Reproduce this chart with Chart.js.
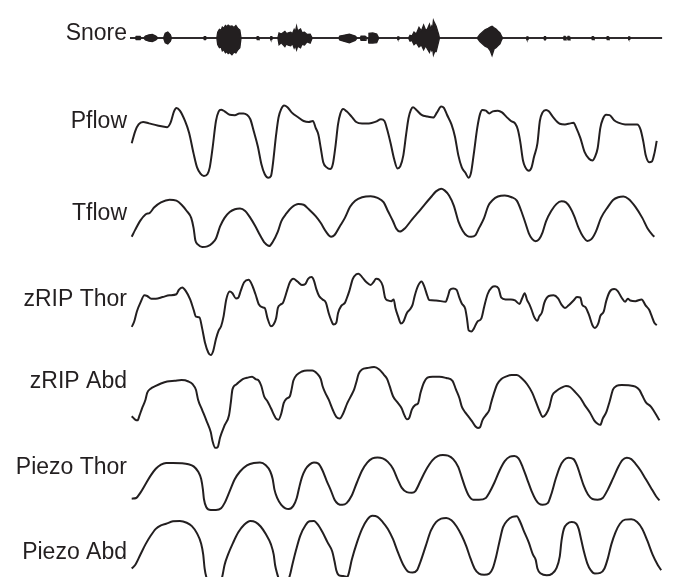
<!DOCTYPE html>
<html>
<head>
<meta charset="utf-8">
<script src="https://cdn.jsdelivr.net/npm/chart.js@4.4.1/dist/chart.umd.min.js"></script>
<style>
  html, body { margin: 0; padding: 0; background: #fff; }
  #wrap { width: 689px; height: 577px; }
</style>
</head>
<body>
<div id="wrap"><canvas id="traces" width="689" height="577"></canvas></div>
<script>
// channel names, top to bottom
const channels = ['Snore', 'Pflow', 'Tflow', 'zRIP Thor', 'zRIP Abd', 'Piezo Thor', 'Piezo Abd'];

// snore envelope: time (s), upper and lower excursion
const snoreTimes = [0, 0.3, 0.36, 0.59, 0.65, 0.8, 0.9, 1.1, 1.3, 1.5, 1.62, 1.95, 2.05, 2.2, 2.35, 2.41,
  4.28, 4.32, 4.4, 4.44,
  5.05, 5.1, 5.2, 5.3, 5.37, 5.45, 5.55, 5.63, 5.71, 5.8, 5.93, 6.05, 6.16, 6.28, 6.39, 6.46,
  7.36, 7.4, 7.46, 7.5, 8.15, 8.19, 8.25, 8.29,
  8.6, 8.67, 8.8, 9.01, 9.1, 9.2, 9.35, 9.45, 9.55, 9.62, 9.69, 9.75, 9.8, 9.92, 10.0, 10.15, 10.3, 10.48, 10.6,
  12.15, 12.2, 12.42, 12.76, 13.1, 13.21,
  13.4, 13.44, 13.67, 13.72, 13.85, 13.9, 14.12, 14.35, 14.47,
  15.54, 15.58, 15.64, 15.68,
  16.2, 16.29, 16.4, 16.52, 16.65, 16.81, 16.95, 17.08, 17.2, 17.3, 17.42, 17.5, 17.55, 17.6, 17.65, 17.72, 17.81, 17.95, 18.0,
  20.2, 20.35, 20.49, 20.65, 20.83, 20.95, 21.06, 21.18, 21.29, 21.4, 21.52, 21.63, 21.7,
  23.05, 23.09, 23.15, 23.19, 24.07, 24.11, 24.17, 24.21, 25.21, 25.25, 25.31, 25.35, 25.44, 25.48, 25.54, 25.58,
  26.85, 26.89, 26.95, 26.99, 27.72, 27.76, 27.82, 27.86, 28.97, 29.01, 29.07, 29.11, 30.95];
const snoreUpper = [0, 0, 0.4, 0.4, 0, 0, 0.5, 0.8, 0.9, 0.5, 0, 0, 1.2, 1.5, 0.8, 0,
  0, 0.35, 0.35, 0,
  0, 1.5, 2.2, 2.0, 2.8, 2.5, 3.2, 2.9, 3.3, 3.0, 3.1, 2.7, 3.2, 2.4, 2.0, 0,
  0, 0.35, 0.35, 0, 0, 0.35, 0.35, 0,
  0, 1.3, 1.0, 1.7, 1.2, 1.3, 1.5, 1.1, 2.2, 1.6, 3.0, 1.8, 2.0, 2.3, 1.4, 1.5, 0.9, 1.0, 0,
  0, 0.5, 0.7, 1.0, 0.5, 0,
  0, 0.5, 0.5, 0, 0, 1.2, 1.3, 1.0, 0,
  0, 0.3, 0.3, 0,
  0, 0.7, 0.5, 1.5, 1.0, 2.7, 1.8, 3.3, 2.0, 2.3, 3.5, 2.2, 3.0, 2.5, 4.5, 3.8, 3.0, 1.0, 0,
  0, 0.9, 1.5, 2.1, 2.5, 2.8, 3.0, 2.6, 2.3, 1.8, 1.3, 0.3, 0,
  0, 0.3, 0.3, 0, 0, 0.35, 0.35, 0, 0, 0.4, 0.4, 0, 0, 0.4, 0.4, 0,
  0, 0.35, 0.35, 0, 0, 0.35, 0.35, 0, 0, 0.3, 0.3, 0, 0];
const snoreLower = [0, 0, -0.4, -0.4, 0, 0, -0.5, -0.8, -0.9, -0.5, 0, 0, -1.2, -1.5, -0.8, 0,
  0, -0.4, -0.4, 0,
  0, -1.7, -2.5, -2.3, -3.3, -3.0, -3.8, -3.5, -4.0, -3.7, -4.3, -3.6, -3.8, -3.0, -2.5, 0,
  0, -0.4, -0.4, 0, 0, -0.4, -0.4, 0,
  0, -1.7, -1.2, -2.2, -1.5, -1.8, -2.0, -1.4, -2.6, -2.0, -3.0, -2.1, -2.2, -2.5, -1.6, -1.8, -1.0, -1.3, 0,
  0, -0.5, -0.8, -1.2, -0.6, 0,
  0, -0.6, -0.6, 0, 0, -1.3, -1.3, -1.2, 0,
  0, -0.35, -0.35, 0,
  0, -0.8, -0.6, -1.7, -1.2, -2.3, -1.8, -3.0, -2.0, -2.8, -3.7, -2.5, -3.2, -2.6, -4.3, -3.5, -3.5, -1.0, 0,
  0, -0.9, -1.5, -2.1, -2.5, -3.2, -4.5, -2.8, -2.5, -2.0, -1.5, -0.3, 0,
  0, -0.4, -0.4, 0, 0, -0.45, -0.45, 0, 0, -0.45, -0.45, 0, 0, -0.45, -0.45, 0,
  0, -0.4, -0.4, 0, 0, -0.4, -0.4, 0, 0, -0.35, -0.35, 0, 0];

// respiratory channels: [time (s), amplitude]
const pflow = [[0.1,-0.05],[0.3,0.3],[0.5,0.5],[0.76,0.57],[1.1,0.53],[1.6,0.47],[2.16,0.42],[2.36,0.55],[2.56,0.88],[2.7,0.98],
  [2.9,0.9],[3.2,0.6],[3.44,0.25],[3.7,-0.35],[3.9,-0.75],[4.1,-0.93],[4.3,-1.0],[4.5,-0.95],[4.64,-0.75],[4.8,-0.2],
  [5.0,0.6],[5.16,0.88],[5.3,0.93],[5.5,0.88],[5.8,0.78],[6.1,0.77],[6.36,0.82],[6.6,0.82],[6.8,0.78],[7.0,0.65],
  [7.2,0.3],[7.44,-0.15],[7.64,-0.65],[7.84,-0.95],[8.04,-1.05],[8.2,-1.0],[8.3,-0.7],[8.5,0.2],[8.64,0.7],[8.8,0.95],
  [8.96,1.05],[9.16,1.0],[9.4,0.85],[9.8,0.7],[10.1,0.6],[10.4,0.57],[10.64,0.6],[10.8,0.4],[10.96,0.2],[11.1,-0.2],
  [11.24,-0.6],[11.44,-0.75],[11.64,-0.8],[11.8,-0.65],[11.96,-0.1],[12.1,0.5],[12.24,0.82],[12.4,0.95],[12.6,0.88],[12.9,0.72],
  [13.16,0.57],[13.5,0.53],[13.9,0.53],[14.3,0.58],[14.6,0.65],[14.8,0.6],[14.96,0.35],[15.16,-0.05],[15.36,-0.5],[15.56,-0.78],
  [15.72,-0.72],[15.9,-0.4],[16.06,0.2],[16.2,0.68],[16.34,0.92],[16.46,1.0],[16.66,0.92],[16.96,0.78],[17.3,0.73],[17.64,0.7],
  [17.86,0.85],[18.1,1.02],[18.26,0.98],[18.44,0.78],[18.7,0.5],[18.9,0.15],[19.1,-0.4],[19.3,-0.75],[19.5,-0.9],[19.7,-1.05],
  [19.84,-0.9],[20.0,-0.35],[20.2,0.4],[20.36,0.8],[20.5,0.92],[20.7,0.9],[20.9,0.82],[21.1,0.88],[21.4,0.9],[21.64,0.85],
  [21.9,0.72],[22.16,0.6],[22.4,0.53],[22.56,0.35],[22.7,0.0],[22.86,-0.55],[23.0,-0.75],[23.2,-0.85],[23.36,-0.75],[23.5,-0.45],
  [23.7,-0.05],[23.84,0.6],[24.0,0.85],[24.2,0.92],[24.36,0.88],[24.6,0.72],[25.0,0.52],[25.3,0.5],[25.6,0.53],[25.8,0.55],
  [25.96,0.4],[26.2,0.1],[26.44,-0.3],[26.7,-0.5],[26.9,-0.55],[27.04,-0.45],[27.2,-0.2],[27.36,0.4],[27.5,0.65],[27.7,0.78],
  [27.9,0.77],[28.16,0.62],[28.4,0.55],[28.8,0.5],[29.2,0.5],[29.5,0.5],[29.7,0.35],[29.86,0.0],[30.0,-0.4],[30.2,-0.6],
  [30.36,-0.58],[30.5,-0.35],[30.64,0.02]];

const tflow = [[0.1,-0.45],[0.3,-0.25],[0.6,0.02],[0.9,0.2],[1.16,0.25],[1.4,0.4],[1.8,0.55],[2.3,0.63],[2.7,0.6],[3.0,0.48],
  [3.3,0.3],[3.56,0.1],[3.7,-0.2],[3.8,-0.55],[3.96,-0.68],[4.2,-0.75],[4.5,-0.73],[4.8,-0.63],[5.0,-0.5],[5.24,-0.15],
  [5.5,0.1],[5.8,0.27],[6.1,0.35],[6.4,0.37],[6.7,0.3],[7.0,0.1],[7.3,-0.15],[7.56,-0.4],[7.84,-0.63],[8.1,-0.72],
  [8.3,-0.6],[8.6,-0.3],[8.8,0.0],[9.1,0.23],[9.4,0.4],[9.8,0.5],[10.1,0.48],[10.4,0.35],[10.8,0.15],[11.1,-0.05],
  [11.4,-0.3],[11.7,-0.45],[11.9,-0.4],[12.2,-0.15],[12.5,0.1],[12.8,0.42],[13.1,0.6],[13.5,0.7],[14.0,0.73],[14.4,0.68],
  [14.76,0.55],[15.0,0.3],[15.3,0.0],[15.5,-0.22],[15.7,-0.3],[16.0,-0.2],[16.4,0.05],[16.8,0.28],[17.16,0.5],[17.5,0.7],
  [17.8,0.87],[18.1,0.95],[18.3,0.9],[18.56,0.75],[18.84,0.45],[19.1,0.0],[19.36,-0.28],[19.6,-0.42],[19.84,-0.45],[20.1,-0.4],
  [20.3,-0.2],[20.6,0.1],[20.84,0.45],[21.1,0.62],[21.4,0.72],[21.8,0.75],[22.2,0.7],[22.5,0.6],[22.76,0.3],[23.0,-0.05],
  [23.2,-0.35],[23.4,-0.52],[23.6,-0.58],[23.8,-0.52],[24.0,-0.32],[24.2,0.0],[24.5,0.3],[24.8,0.5],[25.1,0.58],[25.36,0.55],
  [25.6,0.4],[25.84,0.15],[26.1,-0.2],[26.36,-0.45],[26.6,-0.57],[26.84,-0.52],[27.1,-0.3],[27.4,0.1],[27.8,0.42],[28.1,0.62],
  [28.4,0.7],[28.7,0.72],[29.0,0.65],[29.4,0.42],[29.8,0.1],[30.1,-0.2],[30.4,-0.4],[30.5,-0.45]];

const zripThor = [[0.1,-0.6],[0.24,-0.45],[0.4,-0.15],[0.6,0.1],[0.84,0.32],[1.0,0.3],[1.24,0.22],[1.5,0.22],[1.9,0.27],[2.3,0.32],
  [2.7,0.35],[2.84,0.48],[3.04,0.55],[3.24,0.45],[3.5,0.2],[3.7,-0.1],[3.84,-0.3],[4.04,-0.32],[4.2,-0.65],[4.36,-1.05],
  [4.56,-1.35],[4.7,-1.42],[4.84,-1.3],[5.0,-0.95],[5.16,-0.7],[5.3,-0.58],[5.44,-0.3],[5.6,0.2],[5.8,0.43],[5.96,0.38],
  [6.16,0.23],[6.3,0.25],[6.44,0.45],[6.64,0.7],[6.9,0.77],[7.1,0.62],[7.3,0.35],[7.5,0.05],[7.7,-0.03],[7.84,-0.05],
  [8.0,-0.35],[8.2,-0.58],[8.36,-0.52],[8.5,-0.35],[8.6,-0.05],[8.76,0.05],[8.9,0.1],[9.04,0.3],[9.16,0.5],[9.3,0.7],
  [9.5,0.8],[9.74,0.72],[10.0,0.62],[10.2,0.65],[10.36,0.8],[10.56,0.85],[10.7,0.75],[10.84,0.5],[11.0,0.3],[11.2,0.2],
  [11.4,0.1],[11.56,-0.2],[11.7,-0.4],[11.84,-0.53],[12.0,-0.48],[12.1,-0.2],[12.3,0.02],[12.5,0.1],[12.6,0.22],[12.76,0.45],
  [12.96,0.8],[13.16,0.93],[13.3,0.95],[13.5,0.85],[13.76,0.7],[14.0,0.62],[14.16,0.7],[14.32,0.8],[14.5,0.77],[14.7,0.6],
  [14.84,0.25],[15.0,0.17],[15.2,0.15],[15.34,0.2],[15.44,-0.05],[15.6,-0.3],[15.76,-0.5],[15.9,-0.45],[16.1,-0.2],[16.3,-0.08],
  [16.44,0.05],[16.56,0.3],[16.76,0.6],[16.96,0.72],[17.1,0.6],[17.3,0.3],[17.4,0.18],[17.8,0.17],[18.36,0.13],[18.5,0.3],
  [18.6,0.47],[18.8,0.52],[19.0,0.48],[19.16,0.25],[19.3,0.08],[19.5,-0.07],[19.6,-0.35],[19.7,-0.7],[19.86,-0.73],[20.0,-0.65],
  [20.2,-0.45],[20.44,-0.35],[20.6,-0.02],[20.8,0.35],[21.04,0.55],[21.24,0.58],[21.44,0.52],[21.6,0.25],[21.84,0.2],[22.16,0.2],
  [22.4,0.17],[22.66,0.07],[22.8,0.22],[22.96,0.38],[23.1,0.18],[23.24,0.05],[23.36,-0.1],[23.5,-0.3],[23.7,-0.42],[23.8,-0.3],
  [23.96,-0.18],[24.1,0.1],[24.36,0.3],[24.64,0.32],[24.9,0.23],[25.1,0.05],[25.3,-0.05],[25.5,0.02],[25.8,0.17],[26.0,0.27],
  [26.2,0.25],[26.3,0.05],[26.5,-0.03],[26.7,-0.25],[26.9,-0.55],[27.04,-0.63],[27.24,-0.5],[27.36,-0.28],[27.56,-0.15],[27.7,0.15],
  [27.9,0.42],[28.16,0.5],[28.36,0.45],[28.6,0.25],[28.8,0.13],[28.96,0.22],[29.1,0.17],[29.4,0.15],[29.76,0.2],[30.0,0.02],
  [30.2,-0.1],[30.36,-0.3],[30.5,-0.48],[30.64,-0.55]];

const zripAbd = [[0.1,-0.48],[0.3,-0.58],[0.44,-0.6],[0.56,-0.45],[0.7,-0.25],[0.9,0.0],[1.0,0.2],[1.2,0.32],[1.5,0.4],[1.8,0.47],
  [2.16,0.53],[2.6,0.55],[3.0,0.57],[3.4,0.53],[3.64,0.45],[3.84,0.28],[3.96,0.0],[4.2,-0.3],[4.44,-0.6],[4.7,-0.95],
  [4.8,-1.2],[4.96,-1.4],[5.1,-1.38],[5.24,-1.1],[5.5,-0.75],[5.76,-0.45],[5.86,-0.1],[5.96,0.3],[6.2,0.45],[6.56,0.6],
  [6.9,0.65],[7.1,0.67],[7.3,0.6],[7.5,0.55],[7.64,0.4],[7.8,0.1],[8.0,-0.05],[8.2,-0.25],[8.5,-0.55],[8.64,-0.58],
  [8.8,-0.4],[8.94,-0.1],[9.1,0.03],[9.3,0.1],[9.4,0.3],[9.5,0.55],[9.7,0.72],[10.0,0.82],[10.3,0.85],[10.6,0.85],
  [10.9,0.75],[11.1,0.6],[11.2,0.4],[11.36,0.2],[11.56,0.0],[11.8,-0.3],[12.0,-0.5],[12.2,-0.55],[12.4,-0.4],[12.64,-0.1],
  [12.9,0.15],[13.04,0.3],[13.16,0.5],[13.3,0.75],[13.5,0.88],[13.8,0.92],[14.2,0.95],[14.5,0.88],[14.76,0.73],[14.96,0.6],
  [15.1,0.4],[15.3,0.1],[15.56,-0.08],[15.8,-0.25],[15.96,-0.45],[16.1,-0.57],[16.24,-0.53],[16.4,-0.28],[16.6,-0.15],[16.76,-0.1],
  [16.9,0.2],[17.1,0.5],[17.3,0.64],[17.6,0.67],[18.0,0.67],[18.4,0.63],[18.76,0.55],[18.96,0.3],[19.16,0.05],[19.3,-0.2],
  [19.5,-0.37],[19.7,-0.5],[19.9,-0.63],[20.1,-0.78],[20.24,-0.82],[20.36,-0.8],[20.5,-0.6],[20.7,-0.45],[20.9,-0.3],[21.0,-0.1],
  [21.16,0.17],[21.36,0.45],[21.6,0.6],[21.9,0.68],[22.2,0.72],[22.5,0.72],[22.8,0.62],[23.1,0.45],[23.4,0.2],[23.64,-0.1],
  [23.84,-0.35],[24.0,-0.5],[24.2,-0.42],[24.4,-0.2],[24.56,0.12],[24.8,0.25],[25.1,0.35],[25.36,0.4],[25.6,0.37],[25.9,0.22],
  [26.2,0.05],[26.44,-0.15],[26.76,-0.38],[27.0,-0.6],[27.2,-0.7],[27.36,-0.73],[27.5,-0.55],[27.7,-0.37],[27.9,-0.05],[28.1,0.3],
  [28.3,0.4],[28.6,0.43],[29.0,0.42],[29.4,0.38],[29.64,0.28],[29.8,0.12],[30.0,-0.07],[30.3,-0.2],[30.5,-0.35],[30.8,-0.6]];

const piezoThor = [[0.1,-0.47],[0.36,-0.45],[0.6,-0.3],[0.9,-0.05],[1.2,0.2],[1.5,0.4],[1.8,0.52],[2.1,0.57],[2.5,0.57],[3.0,0.56],
  [3.4,0.53],[3.7,0.47],[3.96,0.32],[4.14,0.1],[4.24,-0.2],[4.3,-0.48],[4.44,-0.72],[4.7,-0.8],[5.0,-0.8],[5.3,-0.75],
  [5.5,-0.6],[5.8,-0.25],[6.1,0.1],[6.4,0.32],[6.8,0.5],[7.2,0.57],[7.56,0.58],[7.9,0.5],[8.16,0.32],[8.3,0.1],
  [8.4,-0.2],[8.56,-0.45],[8.8,-0.65],[9.04,-0.75],[9.24,-0.77],[9.5,-0.68],[9.7,-0.45],[9.84,-0.15],[10.0,0.15],[10.2,0.38],
  [10.44,0.52],[10.7,0.58],[10.96,0.55],[11.2,0.35],[11.44,0.05],[11.7,-0.25],[11.9,-0.5],[12.1,-0.62],[12.36,-0.65],[12.6,-0.6],
  [12.9,-0.38],[13.2,0.0],[13.5,0.35],[13.8,0.58],[14.1,0.7],[14.4,0.73],[14.7,0.7],[15.0,0.6],[15.3,0.4],[15.56,0.1],
  [15.8,-0.15],[16.1,-0.28],[16.4,-0.3],[16.6,-0.25],[16.9,0.05],[17.2,0.35],[17.6,0.65],[17.9,0.77],[18.2,0.8],[18.5,0.78],
  [18.8,0.68],[19.1,0.45],[19.3,0.15],[19.5,-0.15],[19.7,-0.38],[19.96,-0.5],[20.3,-0.5],[20.7,-0.45],[20.9,-0.3],[21.2,0.0],
  [21.5,0.35],[21.8,0.62],[22.1,0.75],[22.36,0.77],[22.6,0.7],[22.84,0.45],[23.1,0.1],[23.36,-0.25],[23.6,-0.5],[23.8,-0.62],
  [24.0,-0.65],[24.3,-0.6],[24.5,-0.35],[24.76,0.1],[25.0,0.45],[25.24,0.65],[25.5,0.72],[25.8,0.68],[26.0,0.5],[26.2,0.2],
  [26.4,-0.1],[26.64,-0.35],[26.9,-0.48],[27.2,-0.5],[27.5,-0.45],[27.8,-0.2],[28.1,0.12],[28.4,0.45],[28.64,0.65],[28.9,0.72],
  [29.16,0.68],[29.4,0.55],[29.7,0.35],[30.0,0.1],[30.3,-0.15],[30.6,-0.4],[30.8,-0.52]];

const piezoAbd = [[0.1,-0.65],[0.3,-0.55],[0.6,-0.25],[0.9,0.05],[1.2,0.3],[1.5,0.5],[1.8,0.6],[2.1,0.65],[2.5,0.72],[2.9,0.73],
  [3.3,0.68],[3.6,0.58],[3.9,0.37],[4.14,0.07],[4.26,-0.25],[4.34,-0.65],[4.44,-0.9],[4.64,-1.1],[4.96,-1.15],[5.24,-1.05],
  [5.36,-0.9],[5.5,-0.55],[5.7,-0.25],[6.0,0.1],[6.3,0.4],[6.64,0.62],[7.0,0.73],[7.3,0.7],[7.6,0.57],[7.9,0.35],
  [8.2,0.05],[8.36,-0.25],[8.44,-0.55],[8.56,-0.8],[8.7,-1.0],[8.96,-1.1],[9.2,-1.0],[9.3,-0.85],[9.44,-0.55],[9.64,-0.15],
  [9.9,0.3],[10.2,0.6],[10.44,0.72],[10.7,0.73],[10.96,0.6],[11.2,0.4],[11.5,0.1],[11.76,-0.15],[11.9,-0.45],[12.0,-0.7],
  [12.16,-0.85],[12.4,-0.87],[12.64,-0.9],[12.72,-0.8],[12.9,-0.4],[13.2,0.1],[13.5,0.5],[13.8,0.77],[14.1,0.88],[14.4,0.85],
  [14.7,0.7],[15.0,0.5],[15.3,0.2],[15.6,-0.2],[15.9,-0.55],[16.2,-0.75],[16.44,-0.77],[16.7,-0.7],[16.9,-0.45],[17.2,0.0],
  [17.5,0.45],[17.8,0.7],[18.1,0.8],[18.4,0.82],[18.7,0.75],[19.0,0.57],[19.3,0.3],[19.56,0.0],[19.8,-0.35],[20.04,-0.65],
  [20.3,-0.8],[20.6,-0.83],[20.9,-0.8],[21.1,-0.65],[21.3,-0.3],[21.5,0.15],[21.7,0.55],[21.96,0.75],[22.24,0.85],[22.5,0.87],
  [22.7,0.7],[22.9,0.45],[23.2,0.1],[23.44,-0.25],[23.6,-0.4],[23.7,-0.65],[23.9,-0.8],[24.24,-0.85],[24.56,-0.8],[24.8,-0.65],
  [25.0,-0.3],[25.1,0.15],[25.24,0.5],[25.44,0.65],[25.7,0.7],[25.96,0.65],[26.1,0.5],[26.24,0.2],[26.4,-0.15],[26.6,-0.5],
  [26.8,-0.7],[27.04,-0.8],[27.36,-0.78],[27.6,-0.65],[27.8,-0.35],[28.0,0.05],[28.24,0.4],[28.5,0.65],[28.8,0.77],[29.16,0.78],
  [29.5,0.7],[29.8,0.5],[30.1,0.15],[30.4,-0.25],[30.7,-0.55],[30.9,-0.7]];

// page layout (pixels): trace centre line, pixels per unit, label centre
const rowCenter = [38, 141.6, 221.3, 306.3, 399.7, 482.5, 546.1];
const rowGain = [3.91, 34.38, 34.38, 34.38, 34.38, 34.38, 34.38];
const labelY = [33.3, 121.7, 214, 300, 382, 468, 553];

const ink = '#231f20';
const pageH = 577;
const bandH = pageH / channels.length;
const labelColW = 114;

Chart.defaults.font.family = "'Liberation Sans', Arial, Helvetica, sans-serif";
Chart.defaults.color = ink;

const scales = {
  x: { type: 'linear', min: 0, max: 30.83, display: false }
};

channels.forEach((name, i) => {
  const top = i * bandH;
  const max = (rowCenter[i] - top) / rowGain[i];
  const min = max - bandH / rowGain[i];
  const tickVal = (rowCenter[i] - labelY[i]) / rowGain[i];
  scales['y' + i] = {
    type: 'linear',
    position: 'left',
    stack: 'rows',
    stackWeight: 1,
    weight: channels.length - i,
    bounds: 'data',
    min: min,
    max: max,
    grid: { display: false, drawTicks: false },
    border: { display: false },
    ticks: { padding: 3, color: ink, font: { size: 23 }, callback: () => name },
    afterBuildTicks: s => { s.ticks = [{ value: tickVal }]; },
    afterFit: s => { s.width = labelColW; s.paddingTop = 0; s.paddingBottom = 0; }
  };
});

const toPts = arr => arr.map(p => ({ x: p[0], y: p[1] }));
const waves = [pflow, tflow, zripThor, zripAbd, piezoThor, piezoAbd];

const datasets = [
  {
    data: snoreTimes.map((t, k) => ({ x: t, y: snoreUpper[k] })),
    yAxisID: 'y0', fill: '+1', backgroundColor: ink, borderColor: ink, borderWidth: 1.3, tension: 0, clip: false
  },
  {
    data: snoreTimes.map((t, k) => ({ x: t, y: snoreLower[k] })),
    yAxisID: 'y0', fill: false, borderColor: ink, borderWidth: 1.3, tension: 0, clip: false
  }
];
waves.forEach((w, j) => {
  datasets.push({
    data: toPts(w),
    yAxisID: 'y' + (j + 1),
    fill: false,
    borderColor: ink,
    borderWidth: 2,
    cubicInterpolationMode: 'monotone',
    clip: false
  });
});

new Chart(document.getElementById('traces'), {
  type: 'line',
  data: { datasets: datasets },
  options: {
    responsive: false,
    animation: false,
    events: [],
    layout: { padding: { left: 16, right: 29, top: 0, bottom: 0 } },
    elements: { point: { radius: 0 } },
    plugins: { legend: { display: false }, tooltip: { enabled: false } },
    scales: scales
  }
});
</script>
</body>
</html>
